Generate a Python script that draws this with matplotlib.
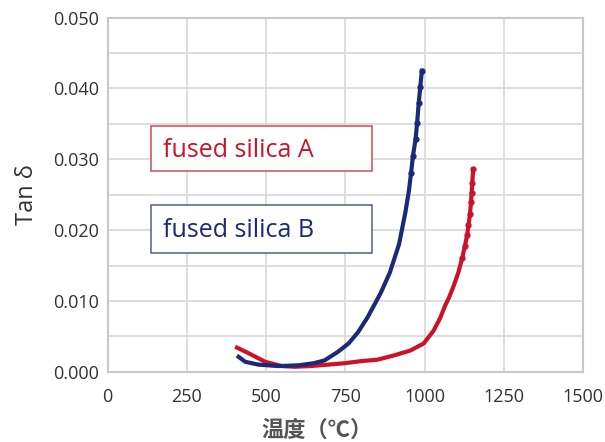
import matplotlib
matplotlib.use("Agg")
import matplotlib.pyplot as plt
from matplotlib.patches import Rectangle
from matplotlib.ticker import MultipleLocator

plt.rcParams['font.family'] = ['Open Sans', 'Noto Sans CJK SC', 'DejaVu Sans']

# --- data ---
temp_a = [408, 445, 497, 549, 590, 640, 695, 747, 800, 851, 903, 955, 997,
          1028, 1049, 1064, 1077, 1092, 1106, 1118, 1127, 1134, 1138, 1143,
          1146, 1148, 1150, 1153]
tan_a = [0.0034, 0.0026, 0.0014, 0.0008, 0.0007, 0.0008, 0.0010, 0.0012,
         0.0015, 0.0017, 0.0023, 0.0030, 0.0040, 0.0058, 0.0076, 0.0093,
         0.0105, 0.0122, 0.0140, 0.0160, 0.0178, 0.0193, 0.0207, 0.0223,
         0.0240, 0.0253, 0.0267, 0.0286]

temp_b = [413, 434, 476, 538, 601, 650, 684, 726, 760, 790, 820, 861, 890,
          919, 939, 950, 957, 963, 971, 976, 981, 986, 991]
tan_b = [0.0021, 0.0014, 0.0010, 0.0008, 0.0009, 0.0012, 0.0016, 0.0028,
         0.0040, 0.0056, 0.0077, 0.0111, 0.0140, 0.0180, 0.0225, 0.0255,
         0.0281, 0.0305, 0.0328, 0.0351, 0.0379, 0.0402, 0.0425]

RED = '#cc1229'
BLUE = '#1b2a78'

fig = plt.figure(figsize=(6.05, 4.42), dpi=100)
ax = fig.add_axes([0.178, 0.159, 0.786, 0.801])

# dots only show up where the measured points spread out (steep part)
ax.plot(temp_a, tan_a, color=RED, lw=3, marker='o', ms=3.5,
        markevery=slice(19, None), zorder=3)
ax.plot(temp_b, tan_b, color=BLUE, lw=3, marker='o', ms=3.5,
        markevery=slice(16, None), zorder=3)

ax.set_xlim(0, 1500)
ax.set_ylim(0, 0.050)
ax.xaxis.set_major_locator(MultipleLocator(250))
ax.yaxis.set_major_locator(MultipleLocator(0.010))
ax.yaxis.set_minor_locator(MultipleLocator(0.005))
ax.set_yticklabels([f'{v:.3f}' for v in ax.get_yticks()])
ax.grid(True, which='both', color='#d8d8d8', lw=1.2)
ax.set_axisbelow(True)
for s in ax.spines.values():
    s.set_color('#c8c8c8')
    s.set_linewidth(1.5)
ax.tick_params(which='both', length=0, colors='#333333')
ax.tick_params(axis='y', labelsize=13, pad=6)
ax.tick_params(axis='x', labelsize=13, pad=12)

ax.set_ylabel('Tan δ', fontsize=17, color='#333333', labelpad=10)
fig.text(317 / 605, 1 - 430 / 442, '温度（℃）', fontsize=16, fontweight='bold',
         color='#555555', family=['Noto Sans CJK SC'], ha='center', va='center')

# label boxes
ax.add_patch(Rectangle((137.5, 0.0284), 697.5, 0.0063, fc='white',
                       ec='#d24a58', lw=1.1, zorder=4))
ax.add_patch(Rectangle((137.5, 0.0167), 697.5, 0.0068, fc='white',
                       ec='#525c8c', lw=1.1, zorder=4))
ax.text(173, 0.0312, 'fused silica A', color=RED, fontsize=18, va='center',
        zorder=5)
ax.text(173, 0.0199, 'fused silica B', color=BLUE, fontsize=18, va='center',
        zorder=5)

fig.savefig('out.png', dpi=100)
